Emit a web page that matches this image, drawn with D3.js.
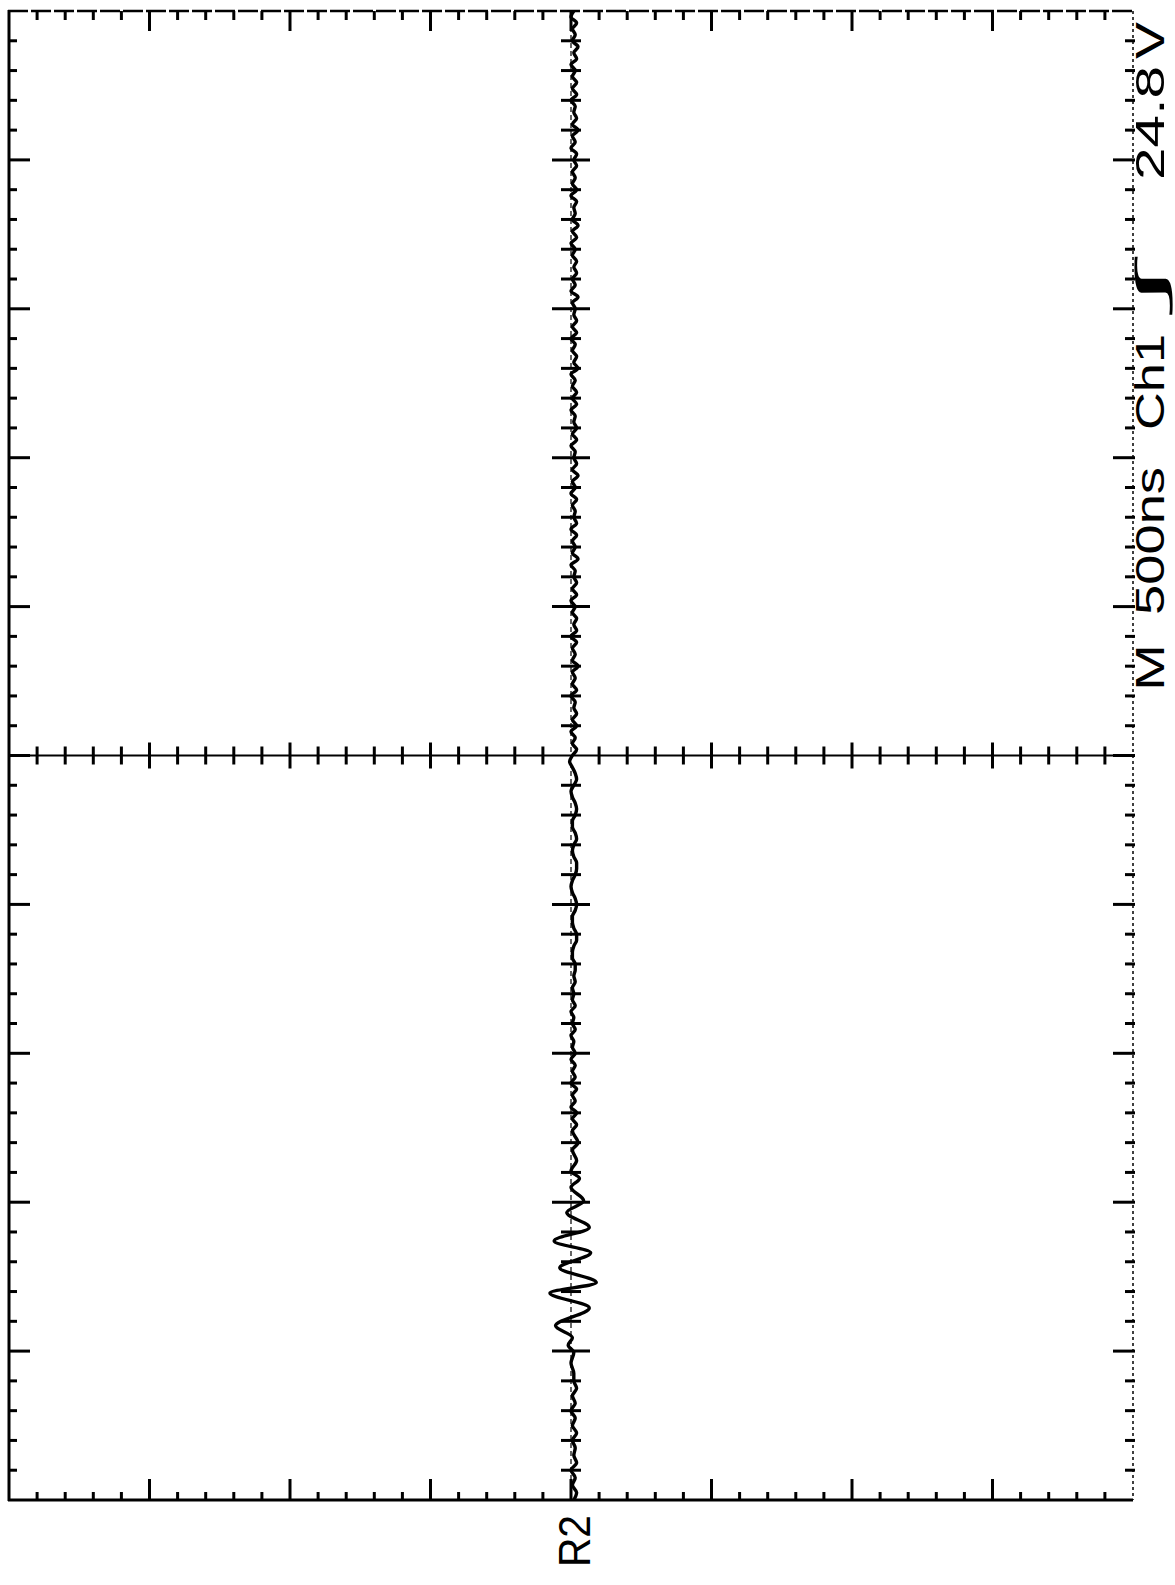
<!DOCTYPE html>
<html>
<head>
<meta charset="utf-8">
<script src="https://cdn.jsdelivr.net/npm/d3@7"></script>
<style>
  html, body { margin: 0; padding: 0; background: #fff; }
  svg { display: block; }
  text { font-family: "Liberation Sans", Arial, sans-serif; fill: #000; }
</style>
</head>
<body>
<svg id="chart" width="1175" height="1585"></svg>
<script>
// ---------------- DATA ----------------
// time in divisions (0 = left edge of the scope screen, 10 = right edge; 500 ns/div)
// voltage in divisions (0 = centre line)
const timeDivisions = 10;
const voltDivisions = 8;

// header / reference labels
const headerParts = ["M", "500ns", "Ch1", "\u222B", "24.8", "V"];
const refLabel = "R2";

// sampled trace, segment 1 (t = 0 .. 0.85, sample every 0.05 div)
const traceStartT = 0.00, traceStartStep = 0.05;
const traceStart = [-0.02,-0.04,-0.01,-0.03,0.00,-0.04,-0.02,-0.03,-0.01,-0.04,-0.01,-0.03,0.00,-0.03,-0.01,-0.04,-0.02,-0.02];

// burst of ringing (explicit time / value pairs)
const burstT = [0.92,0.99,1.04,1.09,1.17,1.29,1.39,1.46,1.56,1.66,1.74,1.83,1.93,2.01,2.10,2.16,2.21,2.28,2.35,2.40,2.48];
const burstV = [0.00,-0.02,0.02,-0.01,0.11,-0.13,0.15,-0.18,0.08,-0.14,0.12,-0.13,0.03,-0.09,0.00,-0.06,0.00,-0.04,-0.01,-0.05,-0.01];

// decaying ringing (t = 2.52 .. 3.48, every 0.04 div)
const traceRingT = 2.52, traceRingStep = 0.04;
const traceRing = [-0.04,-0.01,-0.04,0.00,-0.03,-0.01,-0.04,0.00,-0.03,-0.01,-0.03,0.00,-0.03,-0.01,-0.02,0.00,-0.03,-0.01,-0.02,0.00,-0.03,-0.01,-0.02,-0.01,-0.03];

// quieter stretch (t = 3.52 .. 4.96, every 0.04 div)
const traceMidT = 3.52, traceMidStep = 0.04;
const traceMid = [-0.02,-0.03,-0.03,-0.01,-0.01,-0.02,-0.04,-0.04,-0.02,-0.01,-0.01,-0.03,-0.04,-0.03,-0.01,0.00,-0.01,-0.03,-0.04,-0.04,-0.02,-0.01,-0.02,-0.04,-0.03,-0.01,-0.01,-0.03,-0.04,-0.03,-0.01,0.00,-0.02,-0.04,-0.03,-0.01,0.01];

// small ringing to the end (t = 5.00 .. 10.00, every 0.04 div)
const traceEndT = 5.00, traceEndStep = 0.04;
const traceEnd = [
 -0.01,-0.04,-0.01,-0.03,0.00,-0.04,-0.01,-0.04,-0.02,-0.03,0.00,-0.04,-0.01,-0.03,
 -0.01,-0.05,-0.01,-0.03,-0.01,-0.04,0.00,-0.04,-0.02,-0.04,-0.01,-0.03,0.00,-0.04,
 -0.01,-0.04,-0.02,-0.03,0.00,-0.05,-0.01,-0.03,-0.01,-0.04,0.00,-0.04,-0.02,-0.03,
 -0.01,-0.04,0.00,-0.03,-0.01,-0.05,-0.01,-0.04,-0.02,-0.03,0.00,-0.04,-0.01,-0.04,
 -0.02,-0.03,0.00,-0.04,-0.01,-0.04,-0.01,-0.03,0.00,-0.05,-0.02,-0.04,-0.01,-0.03,
 0.00,-0.04,-0.01,-0.04,-0.02,-0.03,-0.01,-0.05,0.00,-0.03,-0.01,-0.04,-0.02,-0.04,
 -0.01,-0.03,0.00,-0.04,-0.01,-0.05,-0.01,-0.03,-0.02,-0.04,0.00,-0.04,-0.01,-0.03,
 -0.01,-0.04,-0.02,-0.04,0.00,-0.03,-0.01,-0.05,-0.01,-0.04,-0.02,-0.03,0.00,-0.04,
 -0.01,-0.04,-0.01,-0.03,0.00,-0.04,-0.02,-0.05,-0.01,-0.03,-0.01,-0.04,0.00,-0.02
];

// ---------------- LAYOUT ----------------
const LEFT = 9, RIGHT = 1133, TOP = 11, BOTTOM = 1500;
const svg = d3.select("#chart");

// picture is rotated: time runs bottom -> top, positive volts to the left
const y = d3.scaleLinear().domain([0, timeDivisions]).range([BOTTOM, TOP]);
const x = d3.scaleLinear().domain([-voltDivisions / 2, voltDivisions / 2]).range([RIGHT, LEFT]);

const tTicks = d3.range(0, timeDivisions * 5 + 1).map(i => i / 5);
const vTicks = d3.range(0, voltDivisions * 5 + 1).map(i => -voltDivisions / 2 + i / 5);
const isMajor = v => Math.abs(v - Math.round(v)) < 1e-6;

const g = svg.append("g").attr("stroke", "#000").attr("fill", "none").attr("stroke-linecap", "butt");

// frame
g.append("line").attr("x1", x(4)).attr("x2", x(4)).attr("y1", y(10) - 1).attr("y2", y(0) + 1).attr("stroke-width", 3);
g.append("line").attr("x1", x(4) - 1).attr("x2", x(-4)).attr("y1", y(0)).attr("y2", y(0)).attr("stroke-width", 3);
g.append("line").attr("x1", x(4) - 1).attr("x2", x(-4)).attr("y1", y(10)).attr("y2", y(10)).attr("stroke-width", 2.5).attr("stroke-dasharray", "20,3");
g.append("line").attr("x1", x(-4)).attr("x2", x(-4)).attr("y1", y(10)).attr("y2", y(0)).attr("stroke-width", 1.5).attr("stroke-dasharray", "3,3");

// centre lines
g.append("line").attr("x1", x(4)).attr("x2", x(-4)).attr("y1", y(5)).attr("y2", y(5)).attr("stroke-width", 2);
g.append("line").attr("x1", x(0)).attr("x2", x(0)).attr("y1", y(10)).attr("y2", y(0)).attr("stroke-width", 1.2).attr("stroke-dasharray", "5,3");

const ticks = g.append("g").attr("stroke-width", 3);
// time ticks on left border, right border and centre vertical line
tTicks.filter(t => t > 0 && t < 10).forEach(t => {
  const yy = y(t), maj = isMajor(t);
  ticks.append("line").attr("x1", x(4)).attr("x2", x(4) + (maj ? 21 : 8)).attr("y1", yy).attr("y2", yy);
  ticks.append("line").attr("x1", x(-4) + 2).attr("x2", x(-4) - (maj ? 20 : 8)).attr("y1", yy).attr("y2", yy);
  if (t !== 5) ticks.append("line").attr("x1", x(0) - (maj ? 19 : 10)).attr("x2", x(0) + (maj ? 19 : 10)).attr("y1", yy).attr("y2", yy);
});
// volt ticks on top border, bottom border and centre horizontal line
vTicks.filter(v => v > -4 && v < 4).forEach(v => {
  const xx = x(v), maj = isMajor(v);
  ticks.append("line").attr("x1", xx).attr("x2", xx).attr("y1", y(10)).attr("y2", y(10) + (maj ? 20 : 9));
  ticks.append("line").attr("x1", xx).attr("x2", xx).attr("y1", y(0)).attr("y2", y(0) - (maj ? 21 : 8));
  if (v !== 0) ticks.append("line").attr("x1", xx).attr("x2", xx).attr("y1", y(5) - (maj ? 13 : 9)).attr("y2", y(5) + (maj ? 13 : 9));
});

// trace
const seg = (t0, step, vals) => vals.map((v, i) => ({ t: t0 + i * step, v }));
const trace = [].concat(
  seg(traceStartT, traceStartStep, traceStart),
  burstT.map((t, i) => ({ t, v: burstV[i] })),
  seg(traceRingT, traceRingStep, traceRing),
  seg(traceMidT, traceMidStep, traceMid),
  seg(traceEndT, traceEndStep, traceEnd)
);
const line = d3.line().x(d => x(d.v)).y(d => y(d.t)).curve(d3.curveMonotoneY);
svg.append("path").datum(trace).attr("d", line)
  .attr("fill", "none").attr("stroke", "#000").attr("stroke-width", 3.4)
  .attr("stroke-linejoin", "round");

// header text (rotated, reading bottom -> top along the right edge)
const headerSpans = [[691, 644], [615, 467], [430, 334], [308, 265], [180, 66], [59, 22]];
headerParts.forEach((s, i) => {
  const [y0, y1] = headerSpans[i];
  svg.append("text")
    .attr("transform", `translate(1164,${y0}) rotate(-90)`)
    .attr("font-size", 40)
    .attr("font-family", s === "\u222B" ? "DejaVu Sans" : null)
    .attr("textLength", y0 - y1)
    .attr("lengthAdjust", "spacingAndGlyphs")
    .text(s);
});

// reference marker label
svg.append("text")
  .attr("transform", `translate(${x(0) + 19},1567) rotate(-90)`)
  .attr("font-size", 44)
  .attr("textLength", 52)
  .attr("lengthAdjust", "spacingAndGlyphs")
  .text(refLabel);
</script>
</body>
</html>
